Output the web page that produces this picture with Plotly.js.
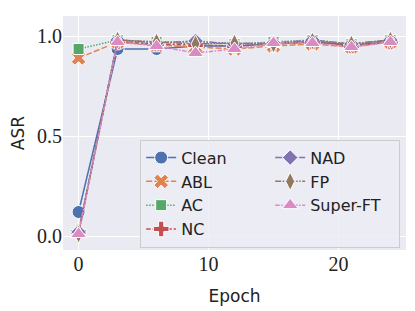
<!DOCTYPE html>
<html><head><meta charset="utf-8">
<script src="https://cdn.plot.ly/plotly-3.0.1.min.js"></script>
<style>body{margin:0;}#plot{width:415px;height:311px;}</style>
</head><body><div id="plot"></div>
<script>
const epochs = [0, 3, 6, 9, 12, 15, 18, 21, 24];
const seriesNames = ["Clean", "ABL", "AC", "NC", "NAD", "FP", "Super-FT"];
const clean   = [0.12, 0.935, 0.935, 0.95, 0.95, 0.96, 0.97, 0.955, 0.97];
const abl     = [0.89, 0.97, 0.955, 0.945, 0.935, 0.95, 0.96, 0.945, 0.97];
const ac      = [0.935, 0.98, 0.97, 0.97, 0.96, 0.97, 0.98, 0.96, 0.98];
const nc      = [0.02, 0.97, 0.96, 0.955, 0.95, 0.96, 0.97, 0.95, 0.97];
const nad     = [0.02, 0.98, 0.965, 0.975, 0.96, 0.965, 0.98, 0.96, 0.98];
const fp      = [0.01, 0.98, 0.97, 0.96, 0.965, 0.96, 0.975, 0.96, 0.98];
const superFT = [0.01, 0.97, 0.95, 0.915, 0.935, 0.965, 0.965, 0.945, 0.97];
const values = [clean, abl, ac, nc, nad, fp, superFT];

const colors = ["#4C72B0", "#DD8452", "#55A868", "#C44E52", "#8172B3", "#937860", "#DA8BC3"];
const symbols = ["circle", "x", "square", "cross", "diamond", "diamond-tall", "triangle-up"];
const dashes = ["solid", "6px,2.25px", "1.5px,1.5px", "4.5px,1.9px,2.25px,1.9px", "7.5px,1.5px,1.5px,1.5px", "6px,1.5px,1.5px,1.5px,1.5px,1.5px", "4.5px,1.5px,1.5px,1.5px"];
const sizes = [13, 13, 11, 13, 12, 13, 14];
const ranks = [1, 3, 5, 7, 2, 4, 6];

const traces = seriesNames.map((n, i) => ({
  x: epochs, y: values[i], name: n, type: "scatter", mode: "lines+markers",
  line: {color: colors[i], width: 1.5, dash: dashes[i]},
  marker: {symbol: symbols[i], size: sizes[i], color: colors[i], line: {color: "white", width: 1}},
  legendrank: ranks[i]
}));

const layout = {
  width: 415, height: 311,
  margin: {l: 63, r: 9, t: 16, b: 61},
  paper_bgcolor: "white", plot_bgcolor: "#EAEAF2",
  showlegend: true,
  xaxis: {range: [-1.2, 25.2], tickvals: [0, 10, 20], ticktext: ["0", "10", "20"],
    gridcolor: "white", gridwidth: 1, zeroline: false, showline: false, ticks: "",
    tickfont: {family: "Liberation Serif, DejaVu Serif, serif", size: 20, color: "#222"},
    title: {text: "Epoch", font: {family: "DejaVu Sans, sans-serif", size: 17, color: "#222"}, standoff: 16}},
  yaxis: {range: [-0.07, 1.1], tickvals: [0, 0.5, 1.0], ticktext: ["0.0", "0.5", "1.0"],
    gridcolor: "white", gridwidth: 1, zeroline: false, showline: false, ticks: "",
    tickfont: {family: "Liberation Serif, DejaVu Serif, serif", size: 20, color: "#222"},
    title: {text: "ASR", font: {family: "DejaVu Sans, sans-serif", size: 17, color: "#222"}, standoff: 8}},
  legend: {x: 0.225, y: 0.01, xanchor: "left", yanchor: "bottom", orientation: "h",
    entrywidth: 84, bgcolor: "rgba(236,236,244,0.85)", bordercolor: "#CCCCCC", borderwidth: 1,
    font: {family: "DejaVu Sans, sans-serif", size: 16, color: "#222"}, traceorder: "normal"}
};
Plotly.newPlot("plot", traces, layout, {staticPlot: true, displayModeBar: false});
</script></body></html>
